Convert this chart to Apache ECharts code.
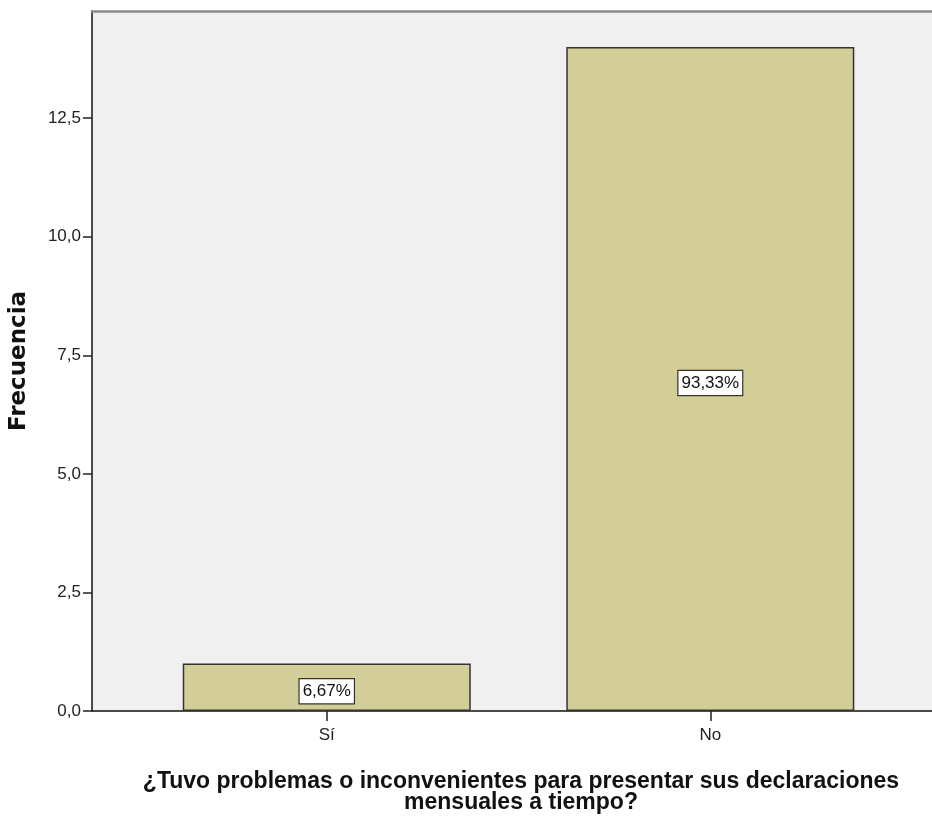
<!DOCTYPE html>
<html>
<head>
<meta charset="utf-8">
<script src="https://cdn.jsdelivr.net/npm/echarts@6/dist/echarts.min.js"></script>
<style>
html,body{margin:0;padding:0;background:#fff;}
#chart{width:932px;height:822px;}
</style>
</head>
<body>
<div id="chart"></div>
<script>
var categories = ['Sí', 'No'];
var frequencies = [1, 14];
var yTicks = [0, 2.5, 5, 7.5, 10, 12.5];
var xTitle = '¿Tuvo problemas o inconvenientes para presentar sus declaraciones\nmensuales a tiempo?';
var yTitle = 'Frecuencia';

var total = frequencies.reduce(function (a, b) { return a + b; }, 0);
var positions = categories.map(function (c, i) { return i + 1; });
var barData = frequencies.map(function (v, i) { return [positions[i], v]; });

var font = '"Liberation Sans", Arial, sans-serif';

var chart = echarts.init(document.getElementById('chart'));
chart.setOption({
  animation: false,
  grid: {
    left: 91, top: 11, right: 0, bottom: 111,
    show: true, backgroundColor: '#f0f0f0', borderWidth: 0
  },
  xAxis: [{
    type: 'value',
    min: 0.388, max: 2.578,
    splitLine: { show: false },
    axisLine: { show: true, lineStyle: { color: '#111', width: 1.5 } },
    axisTick: { show: true, customValues: positions, length: 10, lineStyle: { color: '#222', width: 1.5 } },
    axisLabel: {
      customValues: positions, margin: 16,
      fontFamily: font, fontSize: 17, color: '#222',
      formatter: function (v) { return categories[Math.round(v) - 1] || ''; }
    },
    name: xTitle,
    nameLocation: 'middle',
    nameGap: 60,
    nameTextStyle: {
      fontFamily: font, fontWeight: 'bold',
      fontSize: 23, color: '#111', lineHeight: 21, padding: [0, 0, 0, 18]
    }
  }, {
    type: 'value',
    position: 'top',
    min: 0.388, max: 2.578,
    splitLine: { show: false },
    axisLine: { show: true, lineStyle: { color: '#8a8a8a', width: 2.5 } },
    axisTick: { show: false },
    axisLabel: { show: false }
  }],
  yAxis: {
    type: 'value',
    min: 0, max: 14.76,
    splitLine: { show: false },
    axisLine: { show: true, lineStyle: { color: '#111', width: 1.5 } },
    axisTick: { show: true, customValues: yTicks, length: 9, lineStyle: { color: '#222', width: 1.5 } },
    axisLabel: {
      customValues: yTicks, margin: 11,
      fontFamily: font, fontSize: 17, color: '#222',
      formatter: function (v) { return v.toFixed(1).replace('.', ','); }
    },
    name: yTitle,
    nameLocation: 'middle',
    nameGap: 61,
    nameTextStyle: {
      fontFamily: '"DejaVu Sans"', fontWeight: 'bold', fontSize: 23, color: '#111'
    }
  },
  series: [{
    type: 'bar',
    xAxisIndex: 0,
    data: barData,
    barWidth: 288,
    itemStyle: { color: '#d3ce97', borderColor: '#333', borderWidth: 1.5 },
    label: {
      show: true, position: 'inside', offset: [0, 4],
      formatter: function (p) { return (p.value[1] / total * 100).toFixed(2).replace('.', ',') + '%'; },
      backgroundColor: '#fff', borderColor: '#333', borderWidth: 1.2,
      padding: [4, 3, 3, 3],
      fontFamily: font, fontSize: 17, color: '#111'
    }
  }]
});
</script>
</body>
</html>
